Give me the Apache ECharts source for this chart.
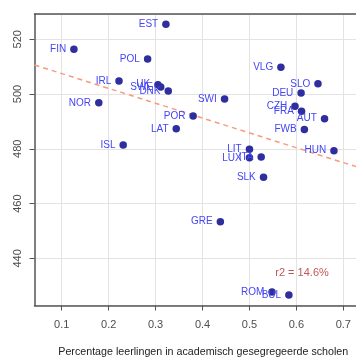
<!DOCTYPE html>
<html><head><meta charset="utf-8">
<script src="https://cdn.jsdelivr.net/npm/echarts@6/dist/echarts.min.js"></script>
<style>html,body{margin:0;padding:0;background:#fff}#c{width:356px;height:364px}</style>
</head><body><div id="c"></div>
<script>
const countries = ["EST","FIN","POL","IRL","UK","SWE","DNK","NOR","LAT","ISL","VLG","SLO","DEU","SWI","CZH","FRA","AUT","POR","FWB","LIT","HUN","LUX","ITA","SLK","GRE","ROM","BUL"];
const segregation = [0.322,0.126,0.283,0.222,0.305,0.311,0.327,0.179,0.344,0.231,0.567,0.646,0.610,0.447,0.597,0.611,0.660,0.380,0.617,0.500,0.680,0.500,0.525,0.530,0.438,0.548,0.584];
const scores = [525.5,516.3,512.8,504.7,503.4,502.6,501.1,496.8,487.3,481.4,509.8,503.7,500.4,498.2,495.5,493.7,491.0,492.0,487.0,479.8,479.3,476.7,477.0,469.6,453.4,427.7,426.6];
const xTicks = [0.1,0.2,0.3,0.4,0.5,0.6,0.7];
const trendX = [0.042,0.727];
const trendY = [510.6,473.5];
const r2Label = "r2 = 14.6%";
const r2Pos = [0.612,434.5];

const chart = echarts.init(document.getElementById('c'));
const pts = countries.map((c,i)=>({name:c,value:[segregation[i],scores[i]]}));
chart.setOption({
  animation:false,
  grid:{left:34.5,top:14,right:0,bottom:58.5,containLabel:false,outerBoundsMode:'none'},
  xAxis:[{
    type:'value',min:0.042,max:0.727,
    name:'Percentage leerlingen in academisch gesegregeerde scholen',
    nameLocation:'middle',nameGap:41,
    nameTextStyle:{fontSize:10.7,color:'#222',fontFamily:'Liberation Sans, Arial, sans-serif',padding:[0,0,0,16]},
    axisLine:{lineStyle:{color:'#555',width:1.5}},
    axisTick:{length:5,lineStyle:{color:'#555'},customValues:xTicks},
    axisLabel:{fontSize:11,color:'#4d4d4d',margin:14,customValues:xTicks,fontFamily:'Liberation Sans, Arial, sans-serif'},
    splitLine:{lineStyle:{color:'#e3e3e3',width:1}}
  },{
    type:'value',position:'top',min:0.042,max:0.727,
    axisLine:{show:true,lineStyle:{color:'#555',width:1.5}},
    axisTick:{show:false},axisLabel:{show:false},splitLine:{show:false}
  }],
  yAxis:{
    type:'value',min:422.8,max:529.2,
    axisLine:{show:true,lineStyle:{color:'#555',width:1.5}},
    axisTick:{show:true,length:5,lineStyle:{color:'#555'}},
    axisLabel:{fontSize:11,color:'#4d4d4d',rotate:90,margin:11,showMinLabel:false,showMaxLabel:false,fontFamily:'Liberation Sans, Arial, sans-serif'},
    splitLine:{lineStyle:{color:'#e3e3e3',width:1}}
  },
  series:[{
    type:'line',data:trendX.map((x,i)=>[x,trendY[i]]),symbol:'none',
    lineStyle:{color:'#f79a7d',width:1.5,type:[5,4]},z:1,silent:true
  },{
    type:'scatter',data:pts,symbolSize:7.5,
    itemStyle:{color:'#2e2e9e',opacity:1},
    label:{show:true,position:'left',distance:4,formatter:'{b}',color:'#4545f5',fontSize:10,fontFamily:'Liberation Sans, Arial, sans-serif'},
    z:3
  },{
    type:'scatter',data:[r2Pos],symbolSize:0,
    label:{show:true,position:'inside',formatter:r2Label,color:'#b22a2a',fontSize:11,fontFamily:'Liberation Sans, Arial, sans-serif'}
  }]
});
</script></body></html>
